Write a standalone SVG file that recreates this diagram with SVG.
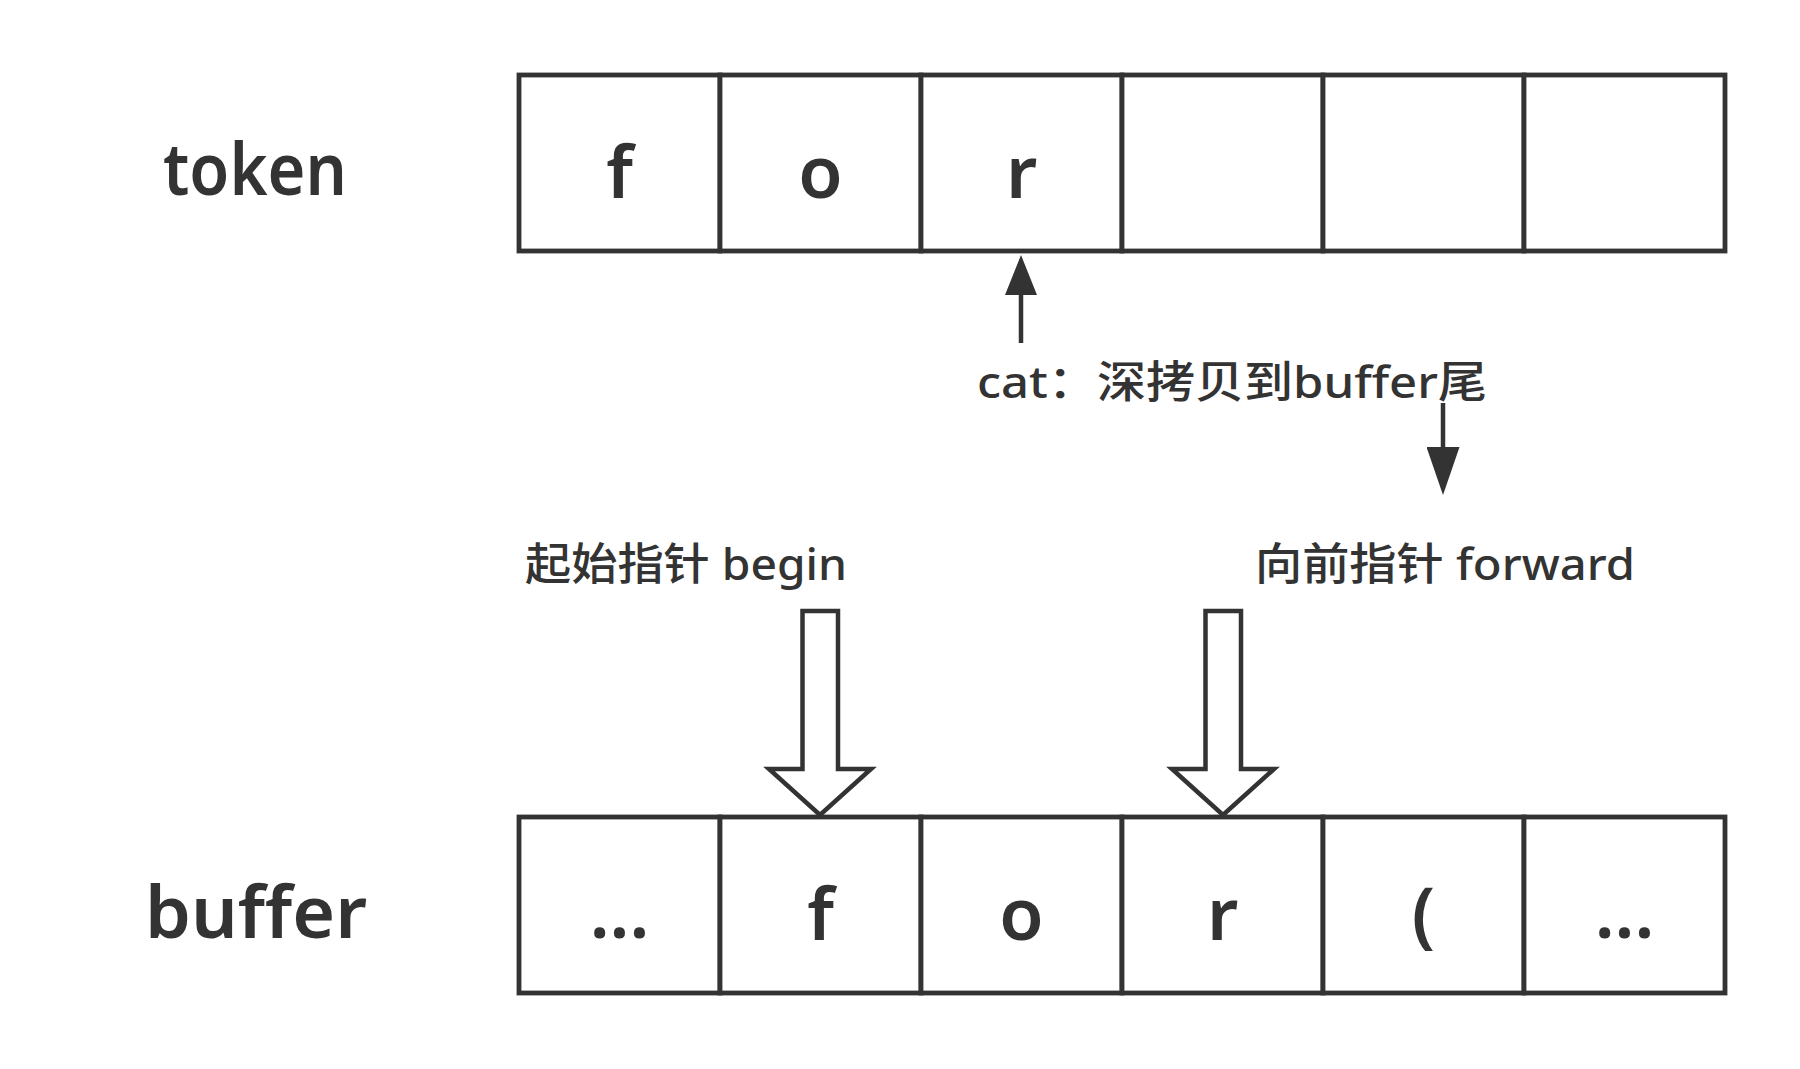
<svg xmlns="http://www.w3.org/2000/svg" width="1800" height="1069" viewBox="0 0 1800 1069">
<style>
.cell{fill:#ffffff;stroke:#333333;stroke-width:4.8}
.big{font-family:"Noto Sans","DejaVu Sans",sans-serif;font-size:72px;fill:#333333;text-anchor:middle;font-weight:600}
.lbl{font-family:"Noto Sans","Noto Sans CJK SC",sans-serif;font-size:44px;fill:#333333;font-weight:500}
.conn{stroke:#333333;stroke-width:4.5;fill:none}
.hollow{fill:#ffffff;stroke:#333333;stroke-width:4.5;stroke-linejoin:miter}
</style>
<defs>
<marker id="headUp" viewBox="0 0 40 32" refX="0" refY="16" markerWidth="40" markerHeight="32" markerUnits="userSpaceOnUse" orient="auto">
<path d="M0,0 L40,16 L0,32 Z" fill="#333333"/>
</marker>
<marker id="headDown" viewBox="0 0 48 33" refX="0" refY="16.5" markerWidth="48" markerHeight="33" markerUnits="userSpaceOnUse" orient="auto">
<path d="M0,0 L48,16.5 L0,33 Z" fill="#333333"/>
</marker>
</defs>
<rect width="1800" height="1069" fill="#ffffff"/>

<g id="token-label"><text class="big" x="255" y="195" textLength="184" lengthAdjust="spacingAndGlyphs">token</text></g>
<g id="buffer-label"><text class="big" x="256" y="938" textLength="222" lengthAdjust="spacingAndGlyphs">buffer</text></g>

<g id="token-cell-1"><rect class="cell" x="519" y="75" width="201" height="176"/><text class="big" x="619.5" y="198">f</text></g>
<g id="token-cell-2"><rect class="cell" x="720" y="75" width="201" height="176"/><text class="big" x="820.5" y="198">o</text></g>
<g id="token-cell-3"><rect class="cell" x="921" y="75" width="201" height="176"/><text class="big" x="1021.5" y="198">r</text></g>
<g id="token-cell-4"><rect class="cell" x="1122" y="75" width="201" height="176"/></g>
<g id="token-cell-5"><rect class="cell" x="1323" y="75" width="201" height="176"/></g>
<g id="token-cell-6"><rect class="cell" x="1524" y="75" width="201" height="176"/></g>

<g id="buffer-cell-1"><rect class="cell" x="519" y="817" width="201" height="176"/><text class="big" x="619.5" y="938">...</text></g>
<g id="buffer-cell-2"><rect class="cell" x="720" y="817" width="201" height="176"/><text class="big" x="820.5" y="940">f</text></g>
<g id="buffer-cell-3"><rect class="cell" x="921" y="817" width="201" height="176"/><text class="big" x="1021.5" y="940">o</text></g>
<g id="buffer-cell-4"><rect class="cell" x="1122" y="817" width="201" height="176"/><text class="big" x="1222.5" y="940">r</text></g>
<g id="buffer-cell-5"><rect class="cell" x="1323" y="817" width="201" height="176"/><text class="big" x="1423.5" y="940">(</text></g>
<g id="buffer-cell-6"><rect class="cell" x="1524" y="817" width="201" height="176"/><text class="big" x="1624.5" y="938">...</text></g>

<g id="cat-label"><text class="lbl" x="977" y="398" textLength="510" lengthAdjust="spacingAndGlyphs">cat：深拷贝到buffer尾</text></g>
<g id="begin-label"><text class="lbl" x="525" y="580" textLength="322" lengthAdjust="spacingAndGlyphs">起始指针 begin</text></g>
<g id="forward-label"><text class="lbl" x="1255" y="580" textLength="380" lengthAdjust="spacingAndGlyphs">向前指针 forward</text></g>

<g id="connectors">
<line class="conn" x1="1021" y1="343" x2="1021" y2="295" marker-end="url(#headUp)"/>
<line class="conn" x1="1443" y1="403" x2="1443" y2="447" marker-end="url(#headDown)"/>
<polygon class="hollow" points="802.5,611 838,611 838,769 871,769 820,815 769,769 802.5,769"/>
<polygon class="hollow" points="1205.5,611 1241,611 1241,769 1274,769 1223,815 1172,769 1205.5,769"/>
</g>
</svg>
